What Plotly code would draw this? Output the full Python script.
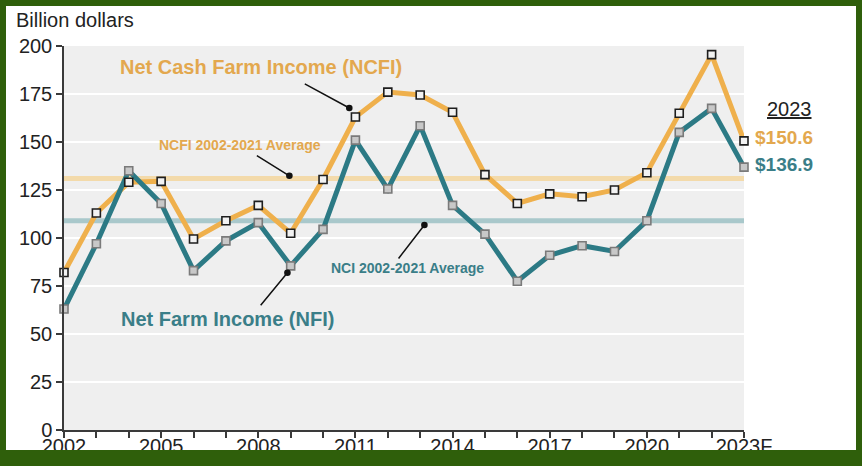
import plotly.graph_objects as go

years = list(range(2002, 2024))
ncfi = [82, 113, 129, 129.5, 99.5, 109, 117, 102.5, 130.5, 163, 176, 174.5,
        165.5, 133, 118, 123, 121.5, 125, 134, 165, 195.5, 150.6]
nfi = [63, 97, 135, 118, 83, 98.5, 108, 85.5, 104.5, 151, 125.5, 158.5,
       117, 102, 77.5, 91, 96, 93, 109, 155, 167.5, 136.9]
ncfi_avg = 131
nfi_avg = 109
tick_labels = ["2002", "2005", "2008", "2011", "2014", "2017", "2020", "2023F"]

ORANGE = "#EFB04C"
TEAL = "#2C7A85"
ORANGE_TXT = "#E3A84E"
TEAL_TXT = "#3A7E88"
GREEN = "#2F5F0B"
FONT = "Liberation Sans, Arial, sans-serif"

W, H = 862, 466
L, R, T, B = 64, 118, 46, 36
pw, ph = W - L - R, H - T - B


def px(x):
    return (x - L) / pw


def py(y):
    return (H - B - y) / ph


ticktext = [str(y) if str(y) in tick_labels else "" for y in years]
ticktext[-1] = tick_labels[-1]

fig = go.Figure()

# averages
fig.add_trace(go.Scatter(x=[years[0], years[-1]], y=[ncfi_avg, ncfi_avg], mode="lines",
                         line=dict(color="#F3DAAA", width=5), cliponaxis=False))
fig.add_trace(go.Scatter(x=[years[0], years[-1]], y=[nfi_avg, nfi_avg], mode="lines",
                         line=dict(color="#A9C8CB", width=5), cliponaxis=False))

# lines
fig.add_trace(go.Scatter(x=years, y=ncfi, mode="lines", line=dict(color=ORANGE, width=5),
                         cliponaxis=False))
fig.add_trace(go.Scatter(x=years, y=nfi, mode="lines", line=dict(color=TEAL, width=5),
                         cliponaxis=False))
# markers
fig.add_trace(go.Scatter(x=years, y=ncfi, mode="markers", cliponaxis=False,
                         marker=dict(symbol="square", size=8, color="#F2F2F2",
                                     line=dict(color="#1E1E1E", width=1.6))))
fig.add_trace(go.Scatter(x=years, y=nfi, mode="markers", cliponaxis=False,
                         marker=dict(symbol="square", size=8, color="#C8C8C8",
                                     line=dict(color="#7A7A7A", width=1.6))))

anns = []


def label(text, x, y, color, size, bold=True):
    anns.append(dict(x=x, y=y, xref="x", yref="y", showarrow=False,
                     xanchor="center", yanchor="middle",
                     text=f"<b>{text}</b>" if bold else text,
                     font=dict(family=FONT, size=size, color=color)))


def pointer(x, y, ax, ay):
    anns.append(dict(x=x, y=y, xref="x", yref="y", text="", showarrow=True,
                     ax=ax, ay=ay, arrowhead=6, arrowsize=1.1, arrowwidth=1.5,
                     arrowcolor="#111111"))


label("Net Cash Farm Income (NCFI)", 2008.07, 189.2, ORANGE_TXT, 20)
label("NCFI 2002-2021 Average", 2007.44, 148.4, ORANGE_TXT, 14)
label("NCI 2002-2021 Average", 2012.62, 84.2, TEAL_TXT, 14)
label("Net Farm Income (NFI)", 2007.04, 57.7, TEAL_TXT, 20)

pointer(2010.81, 167.7, -46, -25)
pointer(2008.96, 132.4, -34, -21)
pointer(2013.13, 106.8, -27, 35)
pointer(2008.9, 81.9, -28, 34)

# 2023 values
anns.append(dict(x=px(789), y=py(109), xref="paper", yref="paper", showarrow=False,
                 xanchor="center", yanchor="middle",
                 text="2023", font=dict(family=FONT, size=20, color="#222222",
                                        lineposition="under")))
anns.append(dict(x=years[-1], y=ncfi[-1], xref="x", yref="y", showarrow=False,
                 xanchor="left", yanchor="middle", xshift=9, yshift=3,
                 text=f"<b>${ncfi[-1]}</b>",
                 font=dict(family=FONT, size=19, color=ORANGE_TXT)))
anns.append(dict(x=years[-1], y=nfi[-1], xref="x", yref="y", showarrow=False,
                 xanchor="left", yanchor="middle", xshift=9, yshift=3,
                 text=f"<b>${nfi[-1]}</b>",
                 font=dict(family=FONT, size=19, color=TEAL_TXT)))

# title
anns.append(dict(x=px(14), y=py(20), xref="paper", yref="paper", showarrow=False,
                 xanchor="left", yanchor="middle", text="Billion dollars",
                 font=dict(family=FONT, size=20, color="#222222")))

# green frame
shapes = []
for x0, y0, x1, y1 in [(-10, -10, 6, H + 10), (856, -10, W + 10, H + 10),
                       (-10, -10, W + 10, 6), (-10, 450, W + 10, H + 10)]:
    shapes.append(dict(type="rect", xref="paper", yref="paper", layer="above",
                       x0=px(x0), x1=px(x1), y0=py(y0), y1=py(y1),
                       fillcolor=GREEN, line=dict(width=0)))

fig.update_layout(
    width=W, height=H,
    margin=dict(l=L, r=R, t=T, b=B, pad=0),
    paper_bgcolor="white",
    plot_bgcolor="#EFEFEF",
    showlegend=False,
    annotations=anns,
    shapes=shapes,
    font=dict(family=FONT, size=18, color="#222222"),
)

fig.update_xaxes(range=[years[0], years[-1]], tickvals=years, ticktext=ticktext,
                 automargin=False, ticklabelstandoff=-9,
                 showgrid=False, zeroline=False, showline=True, linecolor="#3A3A3A",
                 linewidth=1.5, ticks="outside", ticklen=6, tickwidth=1.5,
                 tickcolor="#3A3A3A", tickfont=dict(family=FONT, size=20, color="#222222"))
fig.update_yaxes(range=[0, 200], tickvals=list(range(0, 201, 25)), showgrid=True,
                 automargin=False,
                 gridcolor="white", gridwidth=2, zeroline=False, showline=True,
                 linecolor="#3A3A3A", linewidth=1.5, ticks="outside", ticklen=6,
                 tickwidth=1.5, tickcolor="#3A3A3A",
                 tickfont=dict(family=FONT, size=20, color="#222222"))

fig.write_html("out.html", config={"displayModeBar": False},
               post_script="document.body.style.margin='0';")
